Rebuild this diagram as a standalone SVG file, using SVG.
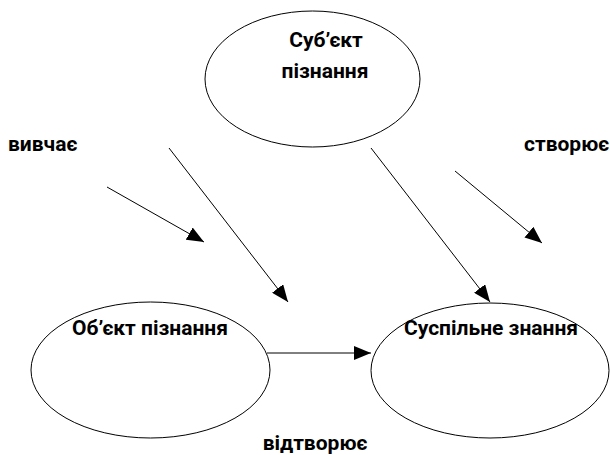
<svg xmlns="http://www.w3.org/2000/svg" width="610" height="455" viewBox="0 0 610 455">
<style>
.node ellipse{fill:#fff;stroke:#000;stroke-width:1}
text{font-family:Roboto,"Open Sans","Liberation Sans",sans-serif;font-weight:bold;font-size:21px;fill:#000}
.conn line{stroke:#000;stroke-width:1;marker-end:url(#ah)}
</style>
<defs>
<marker id="ah" markerUnits="userSpaceOnUse" markerWidth="18" markerHeight="14" refX="17" refY="7" orient="auto">
<path d="M0,0 L17,7 L0,14 z" fill="#000"/>
</marker>
</defs>
<g id="subject" class="node">
<ellipse cx="312.5" cy="79" rx="107.5" ry="68"/>
<text x="326" y="47" text-anchor="middle">Суб’єкт</text>
<text x="325" y="78" text-anchor="middle">пізнання</text>
</g>
<g id="object" class="node">
<ellipse cx="150.5" cy="370" rx="119.5" ry="68"/>
<text x="150" y="335" text-anchor="middle">Об’єкт пізнання</text>
</g>
<g id="knowledge" class="node">
<ellipse cx="490" cy="370.5" rx="119" ry="67.5"/>
<text x="491" y="335" text-anchor="middle">Суспільне знання</text>
</g>
<g id="labels">
<text x="8" y="151">вивчає</text>
<text x="524" y="151">створює</text>
<text x="315" y="450" text-anchor="middle">відтворює</text>
</g>
<g id="connectors" class="conn">
<line x1="107" y1="187" x2="204" y2="242"/>
<line x1="169" y1="148" x2="288" y2="302"/>
<line x1="371" y1="148" x2="490" y2="302"/>
<line x1="455" y1="171" x2="542" y2="243"/>
<line x1="267" y1="353" x2="371" y2="353"/>
</g>
</svg>
